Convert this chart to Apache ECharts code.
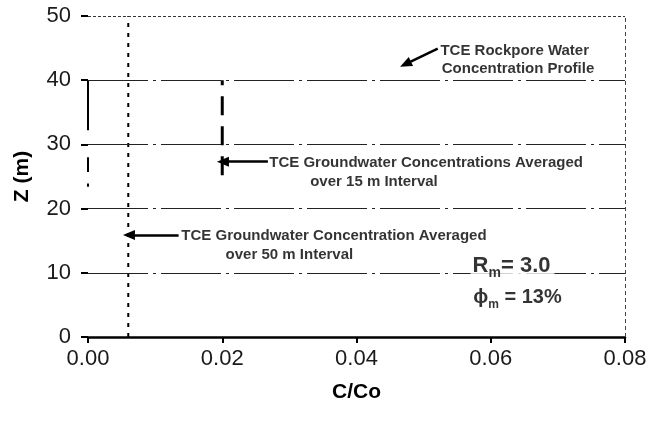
<!DOCTYPE html>
<html>
<head>
<meta charset="utf-8">
<script src="https://cdn.jsdelivr.net/npm/echarts@6/dist/echarts.min.js"></script>
<style>
  html, body { margin: 0; padding: 0; background: #fff; }
  #chart { width: 658px; height: 421px; }
</style>
</head>
<body>
<div id="chart"></div>
<script>
// Axis ranges and tick spacing
const xRange = [0, 0.08];
const xStep = 0.02;
const zRange = [0, 50];
const zStep = 10;

// Horizontal depth reference lines (m)
const gridLevels = [10, 20, 30, 40];

// TCE rockpore water profile near C/Co = 0 (solid run, then broken run)
const rockporeSolid = [[0, 40], [0, 32.2]];
const rockporeBroken = [[[0, 28.0], [0, 25.7]], [[0, 23.9], [0, 23.4]]];

// Groundwater concentration averaged over 15 m interval
const avg15 = [[0.02, 40], [0.02, 24.8]];

// Groundwater concentration averaged over 50 m interval
const avg50 = [[0.006, 0], [0.006, 50]];

// Annotation arrows: [from, to]
const arrowRockpore = [[0.0521, 44.9], [0.0473, 42.5]];
const arrow15 = [[0.0268, 27.3], [0.0201, 27.3]];
const arrow50 = [[0.0135, 15.9], [0.0061, 15.9]];

// Annotation texts anchored at their left edge
const notes = [
  { at: [0.0525, 44.6], text: 'TCE Rockpore Water' },
  { at: [0.0527, 41.8], text: 'Concentration Profile' },
  { at: [0.0270, 27.2], text: 'TCE Groundwater Concentrations Averaged' },
  { at: [0.0331, 24.1], text: 'over 15 m Interval' },
  { at: [0.0139, 15.7], text: 'TCE Groundwater Concentration Averaged' },
  { at: [0.0205, 12.8], text: 'over 50 m Interval' }
];
const paramRm = { at: [0.0570, 11.1], label: 'R', sub: 'm', rest: '= 3.0' };
const paramPhi = { at: [0.0571, 6.2], label: 'ϕ', sub: 'm', rest: ' = 13%' };

const FONT = '"Liberation Sans", Arial, Helvetica, sans-serif';
const INK = '#000';

const chart = echarts.init(document.getElementById('chart'), null, { renderer: 'canvas' });

const lineBase = {
  type: 'line',
  showSymbol: false,
  symbol: 'none',
  silent: true,
  animation: false
};

const series = [];

// Reference lines, top border and right border
series.push(Object.assign({}, lineBase, {
  name: 'frame',
  data: [],
  z: 1,
  markLine: {
    silent: true,
    symbol: ['none', 'none'],
    label: { show: false },
    animation: false,
    data: gridLevels.map(v => ({
      yAxis: v,
      lineStyle: { color: '#222', width: 1, type: [60, 5, 3, 5] }
    })).concat([
      { yAxis: zRange[1], lineStyle: { color: '#333', width: 1, type: [3, 2] } },
      { xAxis: xRange[1], lineStyle: { color: '#444', width: 1, type: [4, 3] } }
    ])
  }
}));

// Rockpore profile
series.push(Object.assign({}, lineBase, {
  name: 'rockpore',
  data: rockporeSolid,
  z: 3,
  lineStyle: { color: INK, width: 2 }
}));
rockporeBroken.forEach((seg, i) => {
  series.push(Object.assign({}, lineBase, {
    name: 'rockpore-' + i,
    data: seg,
    z: 3,
    lineStyle: { color: INK, width: 2 }
  }));
});

// 15 m interval average
series.push(Object.assign({}, lineBase, {
  name: 'avg15',
  data: avg15,
  z: 3,
  lineStyle: { color: INK, width: 3, type: [19, 11], dashOffset: 14 }
}));

// 50 m interval average
series.push(Object.assign({}, lineBase, {
  name: 'avg50',
  data: avg50,
  z: 3,
  lineStyle: { color: INK, width: 2, type: [4, 6] }
}));

// Annotation arrows
function arrow(pair) {
  return [
    { coord: pair[0], symbol: 'none' },
    { coord: pair[1], symbol: 'triangle', symbolSize: [10, 12] }
  ];
}
series.push(Object.assign({}, lineBase, {
  name: 'arrows',
  data: [],
  z: 4,
  markLine: {
    silent: true,
    label: { show: false },
    animation: false,
    lineStyle: { color: INK, width: 2.5, type: 'solid' },
    data: [arrow(arrowRockpore), arrow(arrow15), arrow(arrow50)]
  }
}));

// Annotation texts
series.push({
  type: 'scatter',
  name: 'notes',
  silent: true,
  animation: false,
  symbolSize: 0,
  z: 5,
  data: notes.map(n => ({
    value: n.at,
    label: {
      show: true,
      position: 'right',
      distance: 0,
      formatter: n.text,
      fontFamily: FONT,
      fontWeight: 'bold',
      fontSize: 15,
      color: INK,
      align: 'left',
      verticalAlign: 'middle'
    }
  }))
});

// Model parameters
function paramLabel(p, size) {
  return {
    value: p.at,
    label: {
      show: true,
      position: 'right',
      distance: 0,
      align: 'left',
      verticalAlign: 'middle',
      backgroundColor: '#fff',
      padding: [0, 4, 0, 2],
      formatter: '{a|' + p.label + '}{s|' + p.sub + '}{a|' + p.rest + '}',
      rich: {
        a: { fontFamily: FONT, fontWeight: 'bold', fontSize: size, color: INK, lineHeight: size + 6, verticalAlign: 'middle' },
        s: { fontFamily: FONT, fontWeight: 'bold', fontSize: Math.round(size * 0.62), color: INK, lineHeight: size + 6, verticalAlign: 'bottom' }
      }
    }
  };
}
series.push({
  type: 'scatter',
  name: 'params',
  silent: true,
  animation: false,
  symbolSize: 0,
  z: 6,
  data: [paramLabel(paramRm, 22), paramLabel(paramPhi, 20)]
});

chart.setOption({
  animation: false,
  backgroundColor: '#fff',
  grid: { left: 88, right: 33, top: 16, bottom: 84, containLabel: false, outerBoundsMode: 'none' },
  xAxis: {
    type: 'value',
    min: xRange[0],
    max: xRange[1],
    interval: xStep,
    name: 'C/Co',
    nameLocation: 'middle',
    nameGap: 45,
    nameTextStyle: { fontFamily: FONT, fontWeight: 'bold', fontSize: 21, color: INK },
    axisLine: { show: true, lineStyle: { color: INK, width: 2.5 } },
    axisTick: { show: true, length: 6, lineStyle: { color: INK, width: 2 } },
    axisLabel: {
      formatter: v => v.toFixed(2),
      fontFamily: FONT,
      fontSize: 22,
      color: '#1a1a1a',
      margin: 11
    },
    splitLine: { show: false }
  },
  yAxis: {
    type: 'value',
    min: zRange[0],
    max: zRange[1],
    interval: zStep,
    name: 'Z (m)',
    nameLocation: 'middle',
    nameRotate: 90,
    nameGap: 55,
    nameTextStyle: { fontFamily: FONT, fontWeight: 'bold', fontSize: 21, color: INK },
    axisLine: { show: false },
    axisTick: { show: true, length: 7, lineStyle: { color: INK, width: 2 } },
    axisLabel: {
      fontFamily: FONT,
      fontSize: 22,
      color: '#1a1a1a',
      margin: 17
    },
    splitLine: { show: false }
  },
  series: series
});
</script>
</body>
</html>
